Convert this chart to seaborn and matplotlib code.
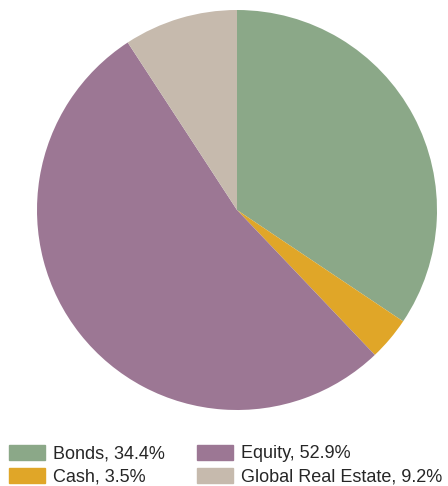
import matplotlib
matplotlib.use("Agg")
import matplotlib.pyplot as plt
import matplotlib.patches as mpatches
import seaborn as sns

# data
assets = ["Bonds", "Cash", "Equity", "Global Real Estate"]
shares = [34.4, 3.5, 52.9, 9.2]
colors = ["#8ba888", "#e0a628", "#9c7794", "#c6baad"]

sns.set_theme(style="white")
plt.rcParams["font.family"] = ["Liberation Sans", "DejaVu Sans"]

fig = plt.figure(figsize=(4.48, 4.86), dpi=100)
ax = fig.add_axes([37 / 448, 76 / 486, 400 / 448, 400 / 486])
ax.pie(shares, colors=colors, startangle=90, counterclock=False,
       wedgeprops=dict(linewidth=0))
ax.set_xlim(-1, 1)
ax.set_ylim(-1, 1)
ax.set_aspect("equal")
ax.axis("off")

# legend, two columns, filled in column order like the reference
handles = [mpatches.Patch(color=c) for c in colors]
labels = [f"{a}, {s}%" for a, s in zip(assets, shares)]
fig.legend(handles, labels, ncol=2, frameon=False, fontsize=13,
           loc="lower left", bbox_to_anchor=(5 / 448, -3 / 486),
           handlelength=2.0, handleheight=0.9, handletextpad=0.45,
           columnspacing=1.8, labelspacing=0.3, borderpad=0.2,
           borderaxespad=0.0)

fig.savefig("out.png", dpi=100)
